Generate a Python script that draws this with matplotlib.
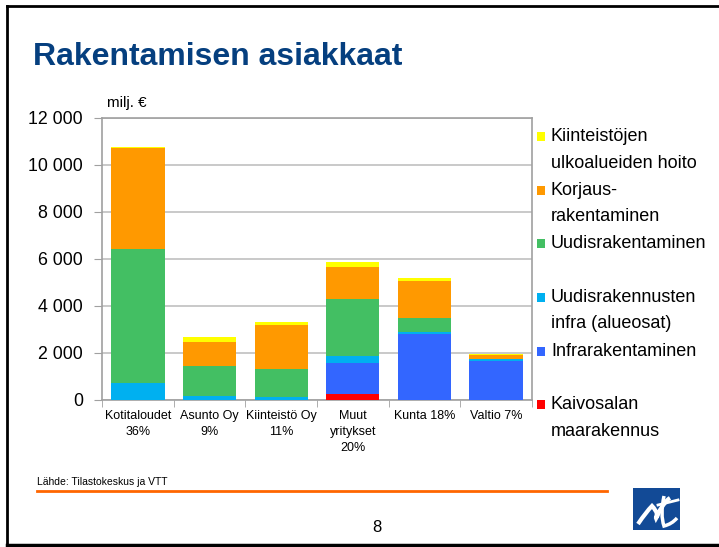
import matplotlib
matplotlib.use("Agg")
import matplotlib.pyplot as plt
from matplotlib.patches import Rectangle, PathPatch
from matplotlib.path import Path
from matplotlib.lines import Line2D
import numpy as np

plt.rcParams['font.family'] = ['Liberation Sans', 'DejaVu Sans']

categories = ["Kotitaloudet\n36%", "Asunto Oy\n9%", "Kiinteistö Oy\n11%",
              "Muut\nyritykset\n20%", "Kunta 18%", "Valtio 7%"]

# stacked bottom -> top (milj. €)
kaivos = [0, 0, 0, 255, 0, 0]
infra = [0, 0, 0, 1330, 2790, 1675]
uudis_infra = [735, 170, 142, 300, 85, 55]
uudis = [5685, 1275, 1158, 2395, 625, 30]
korjaus = [4305, 1035, 1890, 1385, 1540, 140]
ulkoalue = [15, 185, 125, 200, 130, 55]

series = [
    ("Kaivosalan\nmaarakennus", kaivos, "#ff0000"),
    ("Infrarakentaminen", infra, "#3366ff"),
    ("Uudisrakennusten\ninfra (alueosat)", uudis_infra, "#00b0f0"),
    ("Uudisrakentaminen", uudis, "#43bf63"),
    ("Korjaus-\nrakentaminen", korjaus, "#ff9900"),
    ("Kiinteistöjen\nulkoalueiden hoito", ulkoalue, "#ffff00"),
]

yticks = [0, 2000, 4000, 6000, 8000, 10000, 12000]
ytick_labels = ["0", "2 000", "4 000", "6 000", "8 000", "10 000", "12 000"]

W, H = 719, 547
fig = plt.figure(figsize=(W / 100, H / 100), dpi=100)


def fx(px):
    return px / W


def fy(py):
    return 1 - py / H


ax = fig.add_axes([fx(102.3), fy(400), fx(531.7) - fx(102.3), fy(117.7) - fy(400)])

x = np.arange(len(categories))
bottom = np.zeros(len(categories))
for name, vals, col in series:
    ax.bar(x, vals, bottom=bottom, width=0.745, color=col, edgecolor="none", zorder=3)
    bottom += np.array(vals)

ax.set_xlim(-0.5, len(categories) - 0.5)
ax.set_ylim(0, 12000)
ax.set_yticks(yticks)
ax.set_yticklabels(ytick_labels, fontsize=12.8)
ax.yaxis.grid(True, color="#c0c0c0", linewidth=1.2, zorder=0)
ax.set_axisbelow(True)
for s in ax.spines.values():
    s.set_color("#a0a0a0")
    s.set_linewidth(1.2)
ax.tick_params(axis="y", length=6, color="#a0a0a0", pad=8)

ax.set_xticks(x)
ax.set_xticklabels(categories, fontsize=9, linespacing=1.45)
ax.tick_params(axis="x", length=0, pad=7)
ax.set_xticks(np.arange(-0.5, len(categories)), minor=True)
ax.tick_params(axis="x", which="minor", length=5, color="#a0a0a0")

fig.text(fx(107), fy(103), "milj. €", fontsize=11, va="center", ha="left")

# legend, drawn by hand: top entry first
for i, (name, vals, col) in enumerate(series[::-1]):
    yc = 136.7 + i * 53.6
    fig.add_artist(Rectangle((fx(536.5), fy(yc + 4.5)), fx(8.5), 9 / H,
                             facecolor=col, edgecolor="none", transform=fig.transFigure))
    for j, line in enumerate(name.split("\n")):
        fig.text(fx(551), fy(yc + j * 26.5), line, fontsize=13, va="center", ha="left")

# slide title
fig.text(fx(33), fy(57), "Rakentamisen asiakkaat", fontsize=23, fontweight="bold",
         color="#053f7f", va="center", ha="left")

# footer
fig.text(fx(37), fy(482), "Lähde: Tilastokeskus ja VTT", fontsize=7.5, va="center", ha="left",
         family=["Liberation Sans Narrow", "Liberation Sans"])
fig.add_artist(Line2D([fx(37), fx(607)], [fy(491), fy(491)], color="#ff6600", linewidth=2,
                      transform=fig.transFigure))
fig.text(fx(377), fy(528), "8", fontsize=12, va="center", ha="center")

# logo
fig.add_artist(Rectangle((fx(633), fy(530)), fx(47), 42 / H, facecolor="#124a96",
                         edgecolor="none", transform=fig.transFigure))
verts = [(638, 524), (646, 512), (652, 506), (656, 510), (657, 514), (654, 524),
         (660, 510), (666, 500), (670, 498)]
pts = [(fx(a), fy(b)) for a, b in verts]
codes = [Path.MOVETO] + [Path.CURVE3] * 8
fig.add_artist(PathPatch(Path(pts, codes), facecolor="none", edgecolor="white", linewidth=3,
                         transform=fig.transFigure))
verts2 = [(664, 496), (660, 515), (664, 526), (672, 524), (677, 518)]
pts2 = [(fx(a), fy(b)) for a, b in verts2]
fig.add_artist(PathPatch(Path(pts2, [Path.MOVETO, Path.CURVE3, Path.CURVE3, Path.CURVE3, Path.CURVE3]),
                         facecolor="none", edgecolor="white", linewidth=2.5,
                         transform=fig.transFigure))
fig.add_artist(Line2D([fx(658), fx(678)], [fy(505), fy(500)], color="white", linewidth=2,
                      transform=fig.transFigure))

# slide frame
fig.add_artist(Line2D([fx(6.5), fx(719)], [fy(5.5), fy(5.5)], color="black", linewidth=2,
                      transform=fig.transFigure))
fig.add_artist(Line2D([fx(6.5), fx(6.5)], [fy(5.5), fy(544.5)], color="black", linewidth=2,
                      transform=fig.transFigure))
fig.add_artist(Line2D([fx(6.5), fx(719)], [fy(544.5), fy(544.5)], color="black", linewidth=2.5,
                      transform=fig.transFigure))

fig.savefig("out.png", dpi=100)
